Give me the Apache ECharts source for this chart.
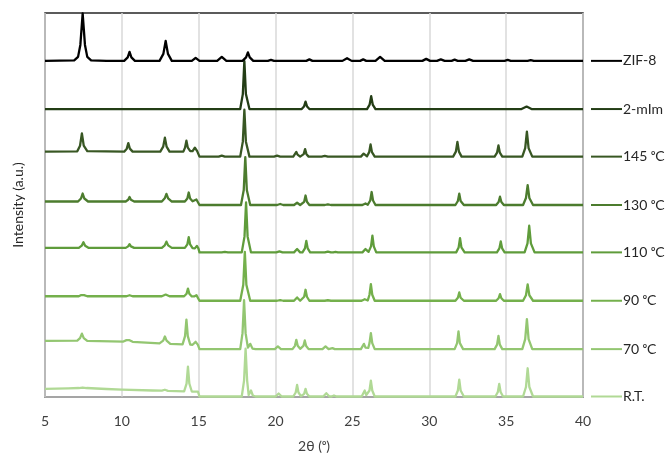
<!DOCTYPE html>
<html>
<head>
<meta charset="utf-8">
<script src="https://cdn.jsdelivr.net/npm/echarts@6/dist/echarts.min.js"></script>
<style>html,body{margin:0;padding:0;background:#fff}#c{width:671px;height:456px}</style>
</head>
<body>
<div id="c"></div>
<script>
// Series names (top to bottom) and vertical stacking offsets (a.u.)
var seriesNames = ['ZIF-8', '2-mIm', '145 \u1D52C', '130 \u1D52C', '110 \u1D52C', '90 \u1D52C', '70 \u1D52C', 'R.T.'];
var offsets = [337, 288.7, 241, 192.5, 145, 96.5, 48, 0.5];
var xTicks = [5, 10, 15, 20, 25, 30, 35, 40];

// Each pattern: [2theta, intensity above its own baseline]
var zif8 = [[5,0],[6.9,0.5],[7.15,4],[7.3,16],[7.45,47.5],[7.6,16],[7.75,4],[8.0,0.5],[9,0],
  [10.15,0],[10.38,3.5],[10.5,9],[10.62,3.5],[10.85,0],
  [12.45,0],[12.7,7],[12.85,20],[13.0,7],[13.25,0],
  [14.55,0],[14.8,3],[15.05,0],[16.2,0],[16.5,4],[16.8,0],
  [17.85,0],[18.08,3.5],[18.2,8.5],[18.32,3.5],[18.55,0],
  [19.5,0],[19.7,1],[19.9,0],[22.0,0],[22.2,1.5],[22.4,0],
  [24.35,0],[24.65,2.7],[24.95,0],[25.5,0],[25.7,1.5],[25.9,0],
  [26.5,0],[26.8,4],[27.1,0],[29.55,0],[29.8,2],[30.05,0],
  [30.5,0],[30.75,1.5],[31.0,0],[31.45,0],[31.65,1.2],[31.85,0],
  [32.35,0],[32.6,1.5],[32.85,0],[34.9,0],[35.1,1],[35.3,0],
  [36.4,0],[36.6,0.7],[36.8,0],[40,0]];

var mim = [[5,0],[17.7,0],[17.87,15],[17.97,48],[18.07,15],[18.3,0],
  [21.7,0],[21.85,2.5],[21.95,7.5],[22.05,2.5],[22.2,0],
  [25.95,0],[26.12,4.5],[26.22,13],[26.32,4.5],[26.5,0],
  [36.0,0],[36.33,2.5],[36.65,0],[40,0]];

var t145 = [[5,5],[7.1,5.3],[7.28,11],[7.4,23.3],[7.52,11],[7.75,5.5],
  [10.15,5],[10.32,8],[10.42,13.5],[10.52,8],[10.7,5],
  [12.5,5],[12.69,10],[12.8,19],[12.91,10],[13.1,5],
  [14.0,5],[14.11,9],[14.2,16],[14.29,9],[14.45,5.5],
  [14.6,5.5],[14.75,9],[14.9,5.5],[14.97,5],[15.05,0],
  [16.3,0],[16.5,1],[16.7,0],
  [17.7,0],[17.87,15],[17.97,47],[18.07,15],[18.3,0],
  [19.9,0],[20.1,1],[20.3,0],
  [21.15,0],[21.27,2],[21.35,4.7],[21.43,2],[21.6,0],
  [21.72,0],[21.83,2.5],[21.92,7.5],[22.01,2.5],[22.15,0],
  [23.0,0],[23.2,0.7],[23.4,0],
  [25.55,0],[25.73,3],[25.95,0.3],[26.09,4.5],[26.18,12.3],[26.27,4.5],[26.45,0],
  [31.55,0],[31.73,5],[31.83,14.7],[31.93,5],[32.1,0],
  [34.25,0],[34.41,4],[34.5,11.3],[34.59,4],[34.75,0],
  [36.05,0],[36.24,8.5],[36.35,25],[36.46,8.5],[36.7,0],[40,0]];

var t130 = [[5,3.5],[7.15,3.5],[7.34,6.5],[7.45,11.5],[7.56,6.5],[7.8,3.5],
  [10.25,3.5],[10.41,5.2],[10.5,8],[10.59,5.2],[10.8,3.5],
  [12.6,3.5],[12.79,6.7],[12.9,11.2],[13.01,6.7],[13.25,3.5],
  [14.1,3.5],[14.26,6.5],[14.35,12.5],[14.44,6.5],[14.6,3.7],
  [14.72,3.7],[14.85,5.5],[14.97,3.5],[15.05,0],
  [17.75,0],[17.93,15],[18.03,48],[18.13,15],[18.35,0],
  [20.1,0],[20.3,1],[20.5,0],
  [21.2,0],[21.4,2.3],[21.6,0],
  [21.72,0],[21.86,3.2],[21.95,9.5],[22.04,3.2],[22.2,0],
  [23.2,0],[23.4,0.7],[23.6,0],
  [25.65,0],[25.85,1.5],[26.0,0.3],[26.16,4.5],[26.25,13],[26.34,4.5],[26.5,0],
  [31.7,0],[31.86,4],[31.95,11.3],[32.04,4],[32.25,0],
  [34.35,0],[34.51,3],[34.6,8.3],[34.69,3],[34.85,0],
  [36.1,0],[36.29,7],[36.4,20],[36.51,7],[36.75,0],[40,0]];

var t110 = [[5,4.5],[7.2,4.5],[7.39,6.7],[7.5,10.2],[7.61,6.7],[7.85,4.5],
  [10.25,4.5],[10.41,6],[10.5,8.2],[10.59,6],[10.8,4.5],
  [12.6,4.5],[12.79,7],[12.9,10.8],[13.01,7],[13.25,4.5],
  [14.1,4.5],[14.26,8],[14.35,15.2],[14.44,8],[14.6,4.2],
  [14.75,4],[14.88,6.5],[14.98,4],[15.05,0],
  [16.5,0],[16.7,0.5],[16.9,0],
  [17.8,0],[17.98,16],[18.08,50],[18.18,16],[18.4,0],
  [20.05,0],[20.25,1],[20.45,0],
  [21.2,0],[21.4,3.3],[21.6,0],
  [21.75,0],[21.91,4],[22.0,11.5],[22.09,4],[22.25,0],
  [23.2,0],[23.4,0.7],[23.6,0],[23.75,0],[23.9,0.5],[24.05,0],
  [25.65,0],[25.85,3.3],[26.05,0.5],[26.21,6],[26.3,16.7],[26.39,6],[26.55,0],
  [31.75,0],[31.91,5],[32.0,14.3],[32.09,5],[32.3,0],
  [34.4,0],[34.56,4],[34.65,11],[34.74,4],[34.9,0],
  [36.2,0],[36.39,9],[36.5,26.7],[36.61,9],[36.85,0],[40,0]];

var t90 = [[5,4.5],[7.2,4.5],[7.36,5.7],[7.45,7.2],[7.54,5.7],[7.75,4.5],
  [10.3,4.5],[10.5,5.5],[10.7,4.5],
  [12.6,4.5],[12.85,6.2],[13.1,4.5],
  [14.05,4.5],[14.21,7],[14.3,12.2],[14.39,7],[14.55,4.3],
  [14.7,4.3],[14.85,5.6],[14.97,4.3],[15.05,0],
  [17.7,0],[17.9,16],[18.0,49],[18.1,16],[18.35,0],
  [20.1,0],[20.3,0.7],[20.5,0],
  [21.2,0],[21.4,3.3],[21.6,0],
  [21.7,0],[21.86,4],[21.95,11],[22.04,4],[22.2,0],
  [23.2,0],[23.4,0.5],[23.6,0],
  [25.6,0],[25.8,1.5],[26.0,0.3],[26.11,6],[26.2,16.7],[26.29,6],[26.45,0],
  [31.7,0],[31.86,3],[31.95,8.3],[32.04,3],[32.25,0],
  [34.35,0],[34.51,2.5],[34.6,6.7],[34.69,2.5],[34.85,0],
  [36.1,0],[36.29,5.5],[36.4,16.3],[36.51,5.5],[36.75,0],[40,0]];

var t70 = [[5,8.3],[7.1,8.5],[7.28,11],[7.4,15.5],[7.52,11],[7.75,8.2],
  [10.1,7.6],[10.3,9],[10.4,11],[10.5,9],[10.7,7.3],
  [12.45,5.8],[12.69,8.5],[12.8,12.7],[12.91,8.5],[13.15,5.2],
  [13.95,4.8],[14.11,13],[14.2,29.5],[14.29,13],[14.45,4.5],
  [14.6,4.4],[14.8,7.3],[14.95,4.3],[15.05,0],
  [17.7,0],[17.85,16],[17.95,49],[18.05,16],[18.2,1.5],
  [18.25,1.8],[18.35,5.3],[18.5,0.5],[18.7,0],
  [19.95,0],[20.15,2.7],[20.35,0],
  [21.1,0],[21.26,3.3],[21.35,9.3],[21.44,3.3],[21.6,0.3],
  [21.7,0.3],[21.81,3.2],[21.9,8.7],[21.99,3.2],[22.15,0],
  [23.05,0],[23.25,2.7],[23.45,0],[23.55,0],[23.7,1],[23.85,0],
  [25.55,0],[25.67,2],[25.75,5.3],[25.85,1.5],[26.03,1.2],[26.11,6],[26.2,16],[26.29,6],[26.45,0],
  [31.65,0],[31.81,6],[31.9,17.7],[31.99,6],[32.2,0],
  [34.25,0],[34.41,4.5],[34.5,13.3],[34.59,4.5],[34.75,0],
  [36.05,0],[36.24,10],[36.35,30],[36.46,10],[36.7,0],[40,0]];

var rt = [[5,7.7],[6.5,8.2],[7.2,8.5],[7.45,9],[7.7,8.5],[9,7.5],[10,6.8],[12,6],[12.6,5.8],[12.8,6.8],[13.0,5.7],
  [14.05,5.2],[14.21,13],[14.3,30],[14.39,13],[14.55,5],[14.95,4.8],[15.05,0],
  [17.8,0],[17.95,16],[18.05,48],[18.15,16],[18.25,1.5],
  [18.3,2],[18.4,6],[18.52,1],[18.7,0],
  [20.0,0],[20.2,3],[20.4,0],
  [21.15,0],[21.31,4],[21.4,11.7],[21.49,4],[21.65,0.3],
  [21.75,0.3],[21.86,2.7],[21.95,7.7],[22.04,2.7],[22.2,0],
  [23.1,0],[23.3,3.3],[23.5,0],[23.65,0],[23.8,1],[23.95,0],
  [25.6,0],[25.71,2],[25.8,6],[25.9,1.5],[26.03,1.2],[26.11,6],[26.2,16],[26.29,6],[26.45,0],
  [31.7,0],[31.86,6],[31.95,17],[32.04,6],[32.25,0],
  [34.3,0],[34.46,4.5],[34.55,12.7],[34.64,4.5],[34.8,0],
  [36.1,0],[36.29,9.5],[36.4,28.3],[36.51,9.5],[36.75,0],[40,0]];

var patterns = [zif8, mim, t145, t130, t110, t90, t70, rt];
var colors = ['#000000', '#233d15', '#385723', '#4c7c2e', '#5f9c3b', '#74b04c', '#93c671', '#b0d995'];

var FONT = 'Lato, "Open Sans", "DejaVu Sans", sans-serif';
var chart = echarts.init(document.getElementById('c'), null, {renderer: 'canvas'});

var series = patterns.map(function (pts, i) {
  return {
    name: seriesNames[i],
    type: 'line',
    showSymbol: false,
    symbol: 'none',
    z: 10 - i,
    data: pts.map(function (p) { return [p[0], p[1] + offsets[i]]; }),
    lineStyle: {color: colors[i], width: 2.3, join: 'round'},
    itemStyle: {color: colors[i]},
    clip: false,
    endLabel: {
      show: true,
      distance: 8,
      formatter: '{l|}{t|' + seriesNames[i] + '}',
      rich: {
        l: {width: 31, height: 2, backgroundColor: colors[i]},
        t: {fontFamily: FONT, fontSize: 14, color: '#262626', padding: [0, 0, 0, 1]}
      }
    }
  };
});

chart.setOption({
  animation: false,
  backgroundColor: '#fff',
  grid: {left: 45, right: 88, top: 13, bottom: 59, outerBoundsMode: 'none', containLabel: false,
         show: true, borderColor: '#262626', borderWidth: 1.5},
  xAxis: {
    type: 'value', min: xTicks[0], max: xTicks[xTicks.length - 1], interval: 5,
    name: '2\u03B8 (\u1D52)', nameLocation: 'middle', nameGap: 42,
    nameTextStyle: {fontFamily: FONT, fontSize: 14, color: '#404040'},
    axisLine: {show: true, lineStyle: {color: '#bfbfbf', width: 1.5}},
    axisTick: {show: false},
    axisLabel: {fontFamily: FONT, fontSize: 14, color: '#404040', margin: 17},
    splitLine: {show: true, lineStyle: {color: '#d9d9d9', width: 1.5}}
  },
  yAxis: {
    type: 'value', min: 0, max: 385,
    name: 'Intensity (a.u.)', nameLocation: 'middle', nameGap: 20,
    nameTextStyle: {fontFamily: FONT, fontSize: 14, color: '#262626'},
    axisLine: {show: false}, axisTick: {show: false}, axisLabel: {show: false},
    splitLine: {show: false}
  },
  series: series
});
</script>
</body>
</html>
